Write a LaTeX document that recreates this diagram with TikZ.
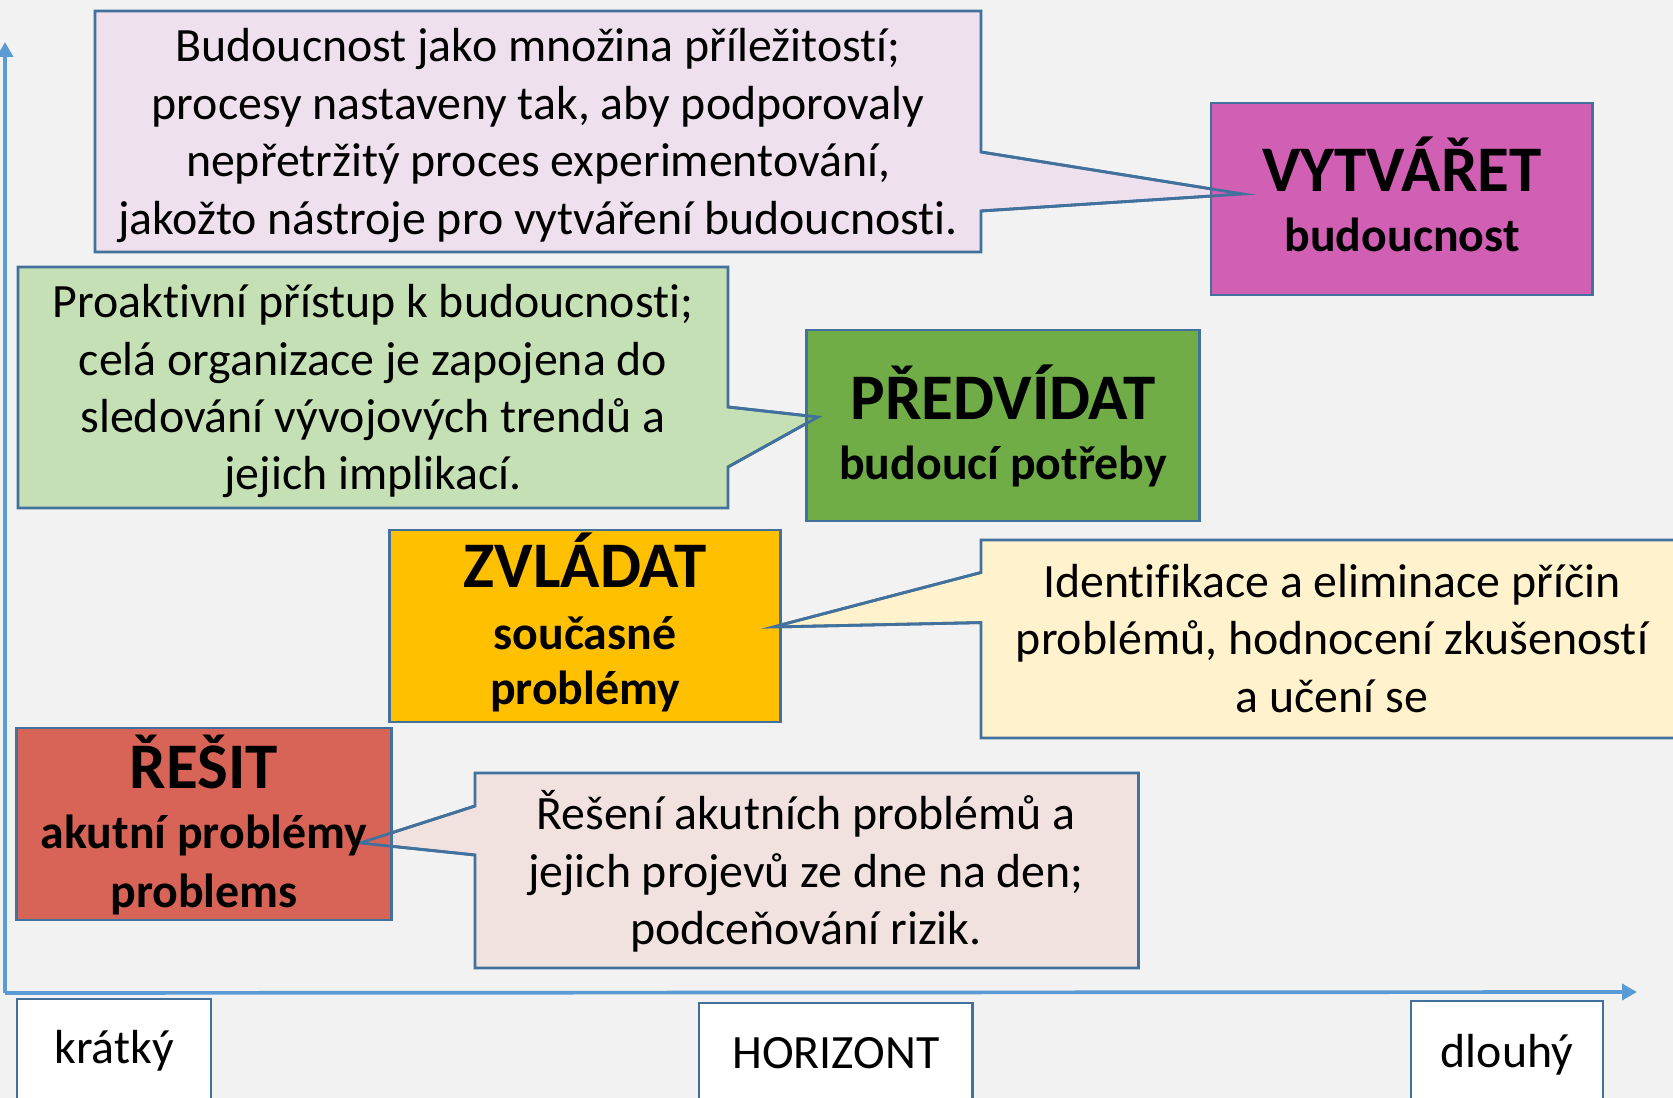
\documentclass[tikz,border=0pt]{standalone}
\usepackage{fontspec}
\setmainfont{Carlito}[Ligatures={NoCommon}]
\usetikzlibrary{arrows.meta}
\definecolor{bg}{HTML}{F2F2F2}
\definecolor{outl}{HTML}{41719C}
\definecolor{axisc}{HTML}{5B9BD5}
\definecolor{pinkc}{HTML}{EEE0EC}
\definecolor{magc}{HTML}{D15FB4}
\definecolor{greenc}{HTML}{C5E0B4}
\definecolor{greenb}{HTML}{70AD47}
\definecolor{orangeb}{HTML}{FFC000}
\definecolor{creamc}{HTML}{FFF2CC}
\definecolor{redb}{HTML}{D86457}
\definecolor{rosec}{HTML}{F1E1DF}
\tikzset{
  outline/.style={draw=outl, line width=0.8pt},
  callout/.style={outline},
  bigbox/.style={outline, rectangle, inner sep=0pt, minimum height=1.92cm},
  labbox/.style={outline, fill=white, rectangle, inner sep=0pt},
  axis/.style={draw=axisc, line width=1.05pt, -{Triangle[length=0.15cm,width=0.16cm]}},
  ln/.style={anchor=base, inner sep=0pt, font=\fontsize{13.6}{16}\selectfont},
  ttl/.style={anchor=base, inner sep=0pt, font=\fontsize{18.5}{22}\selectfont\bfseries},
  sub/.style={anchor=base, inner sep=0pt, font=\fontsize{13.6}{16}\selectfont\bfseries},
}
\begin{document}
\begin{tikzpicture}[x=0.01cm,y=-0.01cm]
\useasboundingbox (0,0) rectangle (1673,1098);
\clip (0,0) rectangle (1673,1098);
\fill[bg] (0,0) rectangle (1673,1098);

% axes
\coordinate (origin) at (5,993);
\coordinate (ytop) at (5,42);
\coordinate (xend) at (1637,992);
\draw[axis] (origin) -- (ytop);
\draw[axis] (origin) -- (xend);

% callout pointer coordinates
\coordinate (pA1) at (981,152); \coordinate (pAt) at (1243,194); \coordinate (pA2) at (981,211);
\coordinate (pB1) at (728,407); \coordinate (pBt) at (818,417); \coordinate (pB2) at (728,467);
\coordinate (pC1) at (981,572.5); \coordinate (pCt) at (773,627); \coordinate (pC2) at (981,622.6);
\coordinate (pD1) at (475,806); \coordinate (pDt) at (360,843); \coordinate (pD2) at (475,855);

% callouts
\draw[callout, fill=pinkc] (95,11) -- (981,11) -- (pA1) -- (pAt) -- (pA2) -- (981,252) -- (95,252) -- cycle;
\draw[callout, fill=greenc] (18,267) -- (728,267) -- (pB1) -- (pBt) -- (pB2) -- (728,508) -- (18,508) -- cycle;
\draw[callout, fill=creamc] (981,540) -- (1690,540) -- (1690,738) -- (981,738) -- (pC2) -- (pCt) -- (pC1) -- cycle;
\draw[callout, fill=rosec] (475,773) -- (1138.5,773) -- (1138.5,968) -- (475,968) -- (pD2) -- (pDt) -- (pD1) -- cycle;

% main boxes
\node[bigbox, fill=magc, minimum width=3.81cm] (vytvaret) at (1401.5,199) {};
\node[bigbox, fill=greenb, minimum width=3.92cm, minimum height=1.91cm] (predvidat) at (1003,425.5) {};
\node[bigbox, fill=orangeb, minimum width=3.90cm] (zvladat) at (585,626) {};
\node[bigbox, fill=redb, minimum width=3.74cm] (resit) at (204,824) {};

% pointer outlines over boxes
\draw[outline] (pA1) -- (pAt) -- (pA2);
\draw[outline] (pB1) -- (pBt) -- (pB2);
\draw[outline] (pC1) -- (pCt) -- (pC2);
\draw[outline] (pD1) -- (pDt) -- (pD2);

% bottom label boxes
\node[labbox, minimum width=1.94cm, minimum height=1.11cm] (kratkybox) at (114,1054.5) {};
\node[labbox, minimum width=2.73cm, minimum height=1.07cm] (horizontbox) at (835.5,1056.5) {};
\node[labbox, minimum width=1.92cm, minimum height=1.09cm] (dlouhybox) at (1507,1055.5) {};

% callout texts
\node[ln] (a1) at (538,62) {Budoucnost jako množina příležitostí;};
\node[ln] (a2) at (538,119.5) {procesy nastaveny tak, aby podporovaly};
\node[ln] (a3) at (538,177) {nepřetržitý proces experimentování,};
\node[ln] (a4) at (538,234.5) {jakožto nástroje pro vytváření budoucnosti.};

\node[ln] (b1) at (373,318) {Proaktivní přístup k budoucnosti;};
\node[ln] (b2) at (373,376) {celá organizace je zapojena do};
\node[ln] (b3) at (373,433) {sledování vývojových trendů a};
\node[ln] (b4) at (373,490) {jejich implikací.};

\node[ln] (c1) at (1332,598) {Identifikace a eliminace příčin};
\node[ln] (c2) at (1332,655) {problémů, hodnocení zkušeností};
\node[ln] (c3) at (1332,713) {a učení se};

\node[ln] (d1) at (806,830) {Řešení akutních problémů a};
\node[ln] (d2) at (806,887) {jejich projevů ze dne na den;};
\node[ln] (d3) at (806,944) {podceňování rizik.};

% box titles
\node[ttl] (t1) at (1402,192) {VYTVÁŘET};
\node[sub] (s1) at (1402,252) {budoucnost};
\node[ttl] (t2) at (1003,420) {PŘEDVÍDAT};
\node[sub] (s2) at (1003,480) {budoucí potřeby};
\node[ttl] (t3) at (585,588) {ZVLÁDAT};
\node[sub] (s3a) at (585,650) {současné};
\node[sub] (s3b) at (585,705) {problémy};
\node[ttl] (t4) at (204,788) {ŘEŠIT};
\node[sub] (s4a) at (204,848) {akutní problémy};
\node[sub] (s4b) at (204,907) {problems};

% axis labels
\node[ln] (kratky) at (114,1063) {krátký};
\node[ln] (horizont) at (836,1068) {HORIZONT};
\node[ln] (dlouhy) at (1507,1067) {dlouhý};
\end{tikzpicture}
\end{document}
